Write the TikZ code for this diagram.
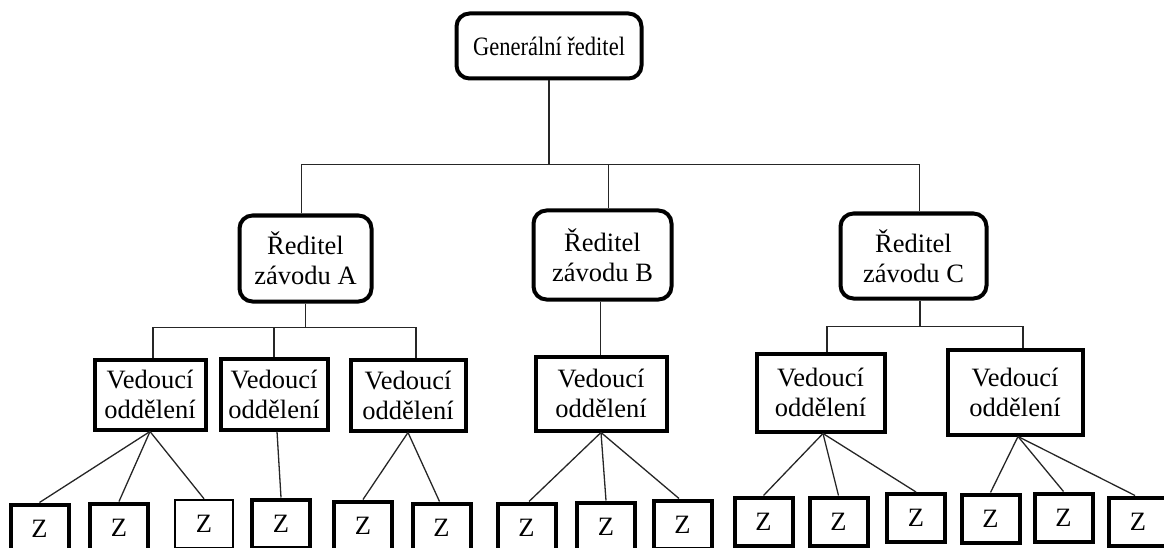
\documentclass[tikz,border=0pt]{standalone}
\usepackage{fontspec}
\setmainfont{Liberation Serif}
\usetikzlibrary{calc}
\begin{document}
\begin{tikzpicture}[x=1pt,y=1pt,
  every node/.style={font=\fontsize{26.5}{30}\selectfont, inner sep=0pt, align=center},
  rbox/.style={draw, line width=4pt, rounded corners=13pt},
  vbox/.style={draw, line width=4pt},
  zbox/.style={draw, line width=4pt, minimum width=58pt, minimum height=48pt},
  conn/.style={line width=1.3pt, draw=black!85}]
\useasboundingbox (0,0) rectangle (1164,-548);
% top
\node[rbox, minimum width=185pt, minimum height=65pt] (G) at (549,-46) {\scalebox{0.85}[1]{Generální ředitel}};
% directors
\node[rbox, minimum width=132pt, minimum height=86pt] (RA) at (305.5,-258.5) {Ředitel\\závodu A};
\node[rbox, minimum width=138pt, minimum height=89pt] (RB) at (602.5,-255) {Ředitel\\závodu B};
\node[rbox, minimum width=146pt, minimum height=85pt] (RC) at (913.5,-256) {Ředitel\\závodu C};
% heads of departments
\node[vbox, minimum width=111pt, minimum height=70pt] (VA1) at (150,-394.5) {Vedoucí\\oddělení};
\node[vbox, minimum width=107pt, minimum height=71pt] (VA2) at (274,-394) {Vedoucí\\oddělení};
\node[vbox, minimum width=115pt, minimum height=71pt] (VA3) at (408,-395) {Vedoucí\\oddělení};
\node[vbox, minimum width=131pt, minimum height=74pt] (VB) at (601,-393.5) {Vedoucí\\oddělení};
\node[vbox, minimum width=128pt, minimum height=78pt] (VC1) at (820.5,-392.5) {Vedoucí\\oddělení};
\node[vbox, minimum width=135pt, minimum height=85pt] (VC2) at (1015,-392) {Vedoucí\\oddělení};
% employees
\node[zbox] (Z1) at (39.5,-528.5) {Z};
\node[zbox] (Z2) at (119,-527.5) {Z};
\node[zbox, line width=2.5pt] (Z3) at (204,-524) {Z};
\node[zbox] (Z4) at (281,-523.5) {Z};
\node[zbox] (Z5) at (363,-525.5) {Z};
\node[zbox] (Z6) at (441.5,-527.5) {Z};
\node[zbox] (Z7) at (526.5,-527.5) {Z};
\node[zbox] (Z8) at (606,-526.5) {Z};
\node[zbox] (Z9) at (682.5,-524.5) {Z};
\node[zbox] (Z10) at (763.5,-521.5) {Z};
\node[zbox] (Z11) at (838.5,-521.5) {Z};
\node[zbox] (Z12) at (916,-518) {Z};
\node[zbox] (Z13) at (990.5,-518.5) {Z};
\node[zbox] (Z14) at (1063.5,-517.5) {Z};
\node[zbox] (Z15) at (1138,-521.5) {Z};
% level 1 connectors
\draw[conn] (G.south) -- ++(0,-84) coordinate (bus);
\draw[conn] ([xshift=-4pt]RA.north) -- ([xshift=-4pt]RA.north |- bus) -- (bus);
\draw[conn] ([xshift=6pt]RC.north) -- ([xshift=6pt]RC.north |- bus) -- (bus);
\draw[conn] ([xshift=6pt]RB.north) -- ([xshift=6pt]RB.north |- bus);
% level 2 connectors
\draw[conn] (RA.south) -- ++(0,-24) coordinate (ja);
\draw[conn] (ja) -| ([xshift=3pt]VA1.north);
\draw[conn] (ja) -| (VA2.north);
\draw[conn] (ja) -| ([xshift=8pt]VA3.north);
\draw[conn] ([xshift=-2pt]RB.south) -- ([xshift=-2pt]RB.south |- VB.north);
\draw[conn] ([xshift=6.5pt]RC.south) -- ++(0,-26) coordinate (jc);
\draw[conn] (jc) -| ([xshift=6.5pt]VC1.north);
\draw[conn] (jc) -| ([xshift=8pt]VC2.north);
% level 3 connectors
\draw[conn] (VA1.south) -- (Z1.north);
\draw[conn] (VA1.south) -- (Z2.north);
\draw[conn] (VA1.south) -- (Z3.north);
\draw[conn] ([xshift=3pt]VA2.south) -- (Z4.north);
\draw[conn] (VA3.south) -- (Z5.north);
\draw[conn] (VA3.south) -- ([xshift=-2pt]Z6.north);
\draw[conn] (VB.south) -- ([xshift=2.5pt]Z7.north);
\draw[conn] (VB.south) -- (Z8.north);
\draw[conn] (VB.south) -- ([xshift=-3.5pt]Z9.north);
\draw[conn] ([xshift=2.5pt]VC1.south) -- (Z10.north);
\draw[conn] ([xshift=2.5pt]VC1.south) -- (Z11.north);
\draw[conn] ([xshift=2.5pt]VC1.south) -- (Z12.north);
\draw[conn] ([xshift=3pt]VC2.south) -- (Z13.north);
\draw[conn] ([xshift=3pt]VC2.south) -- (Z14.north);
\draw[conn] ([xshift=3pt]VC2.south) -- ([xshift=-3pt]Z15.north);
\end{tikzpicture}
\end{document}
